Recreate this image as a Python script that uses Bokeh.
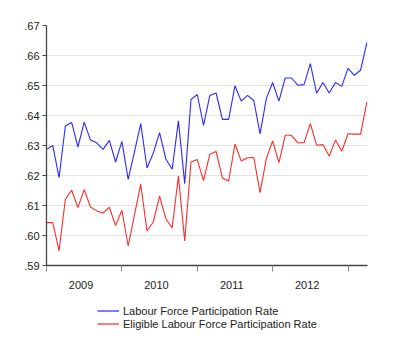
from bokeh.plotting import figure
from bokeh.layouts import column
from bokeh.models import FixedTicker, CustomJSTickFormatter, Legend, LegendItem, Range1d
from bokeh.embed import file_html
from bokeh.resources import INLINE

# Monthly observations, Jan 2009 .. Apr 2013
labour_force = [
    0.6287, 0.6300, 0.6193, 0.6365, 0.6377, 0.6295, 0.6378, 0.6318, 0.6309, 0.6287, 0.6317, 0.6245,
    0.6314, 0.6187, 0.6279, 0.6373, 0.6225, 0.6275, 0.6343, 0.6255, 0.6221, 0.6382, 0.6173, 0.6453,
    0.6470, 0.6367, 0.6467, 0.6475, 0.6387, 0.6387, 0.6499, 0.6448, 0.6467, 0.6450, 0.6339, 0.6457,
    0.6510, 0.6448, 0.6525, 0.6525, 0.6501, 0.6503, 0.6573, 0.6474, 0.6510, 0.6475, 0.6510, 0.6497,
    0.6557, 0.6534, 0.6551, 0.6643,
]
eligible_labour_force = [
    0.6043, 0.6043, 0.5949, 0.6121, 0.6151, 0.6093, 0.6153, 0.6095, 0.6082, 0.6075, 0.6094, 0.6033,
    0.6084, 0.5965, 0.6068, 0.6171, 0.6015, 0.6045, 0.6131, 0.6056, 0.6025, 0.6198, 0.5982, 0.6245,
    0.6253, 0.6183, 0.6271, 0.6280, 0.6192, 0.6182, 0.6305, 0.6248, 0.6259, 0.6260, 0.6143, 0.6257,
    0.6315, 0.6243, 0.6334, 0.6334, 0.6309, 0.6309, 0.6373, 0.6301, 0.6303, 0.6265, 0.6318, 0.6281,
    0.6339, 0.6338, 0.6338, 0.6445,
]
months = list(range(len(labour_force)))
year_labels = ["2009", "2010", "2011", "2012"]
year_starts = [0, 12, 24, 36, 48]
y_ticks = [0.59, 0.60, 0.61, 0.62, 0.63, 0.64, 0.65, 0.66, 0.67]
series_names = ["Labour Force Participation Rate", "Eligible Labour Force Participation Rate"]
series_colors = ["#2a2aff", "#ff2a2a"]
legend_colors = ["#7c7cff", "#ff7c7c"]

FONT = "Liberation Sans"

p = figure(width=400, height=295, output_backend="svg", toolbar_location=None,
           x_range=Range1d(0, 51.1), y_range=Range1d(0.59, 0.67),
           min_border_left=46, min_border_right=33, min_border_top=25, min_border_bottom=30)
p.outline_line_color = None
p.background_fill_color = "white"

p.line(months, labour_force, line_color=series_colors[0], line_width=1.1)
p.line(months, eligible_labour_force, line_color=series_colors[1], line_width=1.1)

# y axis
p.yaxis.ticker = FixedTicker(ticks=y_ticks)
p.yaxis.formatter = CustomJSTickFormatter(code="return tick.toFixed(2).replace(/^0/, '');")
p.yaxis.major_tick_out = 4
p.yaxis.major_tick_in = 0
p.yaxis.minor_tick_line_color = None
p.yaxis.axis_line_color = "#444444"
p.yaxis.major_tick_line_color = "#444444"
p.yaxis.axis_line_width = 1.3
p.yaxis.major_label_standoff = 3
p.yaxis.major_label_text_font = FONT
p.yaxis.major_label_text_font_size = "11px"
p.yaxis.major_label_text_color = "#222222"

# x axis: year labels centred, tick marks at year boundaries
label_pos = [s + 5.5 for s in year_starts[:-1]]
p.xaxis.ticker = FixedTicker(ticks=label_pos, minor_ticks=year_starts)
p.xaxis.major_label_overrides = {lp: lab for lp, lab in zip(label_pos, year_labels)}
p.xaxis.major_tick_out = 0
p.xaxis.major_tick_in = 0
p.xaxis.minor_tick_out = 6
p.xaxis.minor_tick_in = 0
p.xaxis.minor_tick_line_color = "#888888"
p.xaxis.axis_line_color = "#444444"
p.xaxis.axis_line_width = 1.3
p.xaxis.major_label_standoff = 9
p.xaxis.major_label_text_font = FONT
p.xaxis.major_label_text_font_size = "11px"
p.xaxis.major_label_text_color = "#222222"

p.xgrid.grid_line_color = None
p.ygrid.ticker = FixedTicker(ticks=y_ticks[1:])
p.ygrid.grid_line_color = "#e4e4e4"
p.ygrid.grid_line_width = 1

# legend figure (series drawn out of view, only the legend shows)
p2 = figure(width=400, height=59, output_backend="svg", toolbar_location=None,
            x_range=Range1d(1000, 1001), y_range=Range1d(0, 1),
            x_axis_location=None, y_axis_location=None,
            min_border=0, min_border_left=0, min_border_right=0,
            min_border_top=0, min_border_bottom=0)
p2.outline_line_color = None
p2.grid.grid_line_color = None
lr1 = p2.line(months, labour_force, line_color=legend_colors[0], line_width=2)
lr2 = p2.line(months, eligible_labour_force, line_color=legend_colors[1], line_width=2)

legend = Legend(items=[
    LegendItem(label=series_names[0], renderers=[lr1]),
    LegendItem(label=series_names[1], renderers=[lr2]),
], location=(51, 24))
legend.background_fill_alpha = 0
legend.border_line_alpha = 0
legend.padding = 0
legend.margin = 0
legend.spacing = 0
legend.glyph_width = 22
legend.glyph_height = 13
legend.label_height = 13
legend.label_standoff = 4
legend.label_text_font = FONT
legend.label_text_font_size = "11px"
legend.label_text_color = "#222222"
p2.add_layout(legend, "center")

layout = column(p, p2, spacing=0)
open("out.html", "w").write(file_html(layout, INLINE))
